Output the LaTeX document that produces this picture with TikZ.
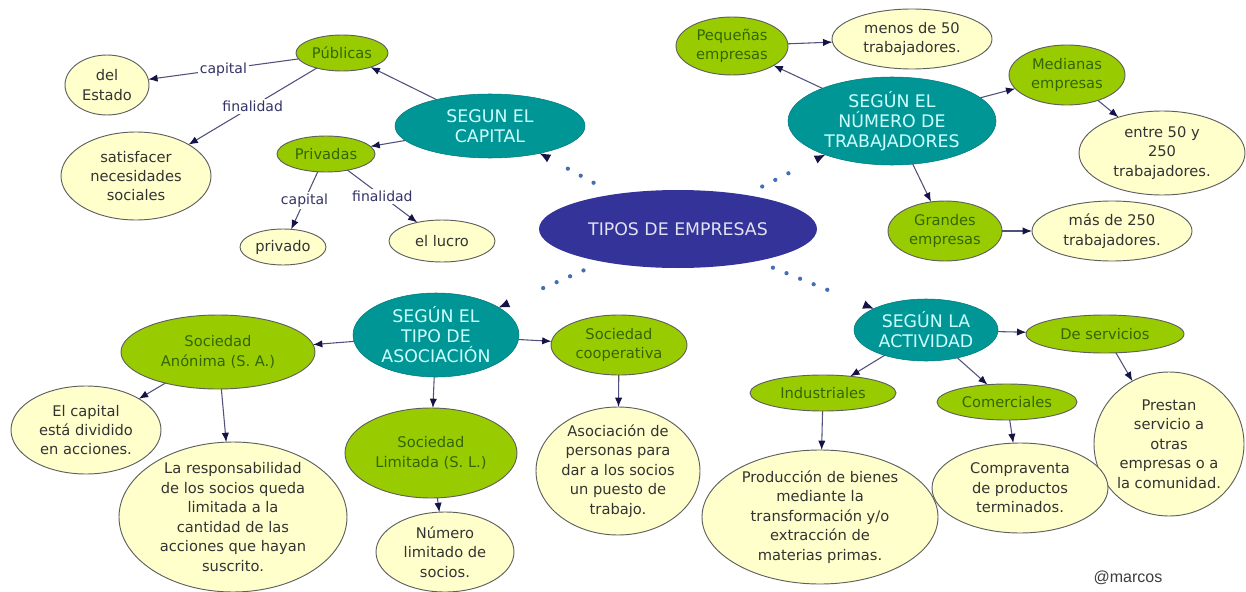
\documentclass[tikz,border=0pt]{standalone}
\usepackage{fontspec}
\setmainfont{DejaVu Sans}
\newfontfamily\signfont{Liberation Sans}
\usetikzlibrary{shapes.geometric,arrows.meta}

\definecolor{hubblue}{RGB}{51,51,153}
\definecolor{hubtext}{RGB}{225,225,240}
\definecolor{tealfill}{RGB}{0,150,150}
\definecolor{tealedge}{RGB}{0,120,125}
\definecolor{tealtext}{RGB}{204,255,255}
\definecolor{limefill}{RGB}{153,204,0}
\definecolor{limetext}{RGB}{51,102,0}
\definecolor{creamfill}{RGB}{255,255,204}
\definecolor{notetext}{RGB}{51,51,51}
\definecolor{edgegray}{RGB}{95,95,95}
\definecolor{linkcol}{RGB}{80,80,125}
\definecolor{tipcol}{RGB}{20,20,70}
\definecolor{lbltext}{RGB}{51,51,102}
\definecolor{dotblue}{RGB}{70,110,180}
\definecolor{signgray}{RGB}{60,60,60}

\tikzset{
	bubble/.style={ellipse, inner sep=-5pt, outer sep=0pt, align=center, font=\fontsize{11}{14.6}\selectfont},
	hub/.style={bubble, fill=hubblue, text=hubtext, font=\fontsize{13}{15}\selectfont},
	branch/.style={bubble, fill=tealfill, draw=tealedge, text=tealtext, font=\fontsize{13}{15}\selectfont},
	kind/.style={bubble, fill=limefill, draw=edgegray, line width=0.7pt, text=limetext},
	note/.style={bubble, fill=creamfill, draw=edgegray, line width=0.7pt, text=notetext},
	dims/.style 2 args={minimum width=#1, minimum height=#2},
	link/.style={draw=linkcol, line width=0.8pt, -{Latex[length=7pt,width=5.5pt,color=tipcol]}},
	lbl/.style={fill=white, inner sep=1.5pt, text=lbltext, font=\fontsize{10.5}{12}\selectfont},
	dotlink/.style={draw=dotblue, line width=3.2pt, line cap=round, -{Latex[length=8pt,width=6.5pt,color=tipcol,line width=0pt]}},
}

\begin{document}
\begin{tikzpicture}[x=0.75pt,y=0.75pt,yscale=-1,xscale=1]
	\useasboundingbox (0,0) rectangle (1246,592);
	
	%Shape: Ellipse centre
	\node [hub, dims={208.5pt}{58.5pt}] (tipos) at (678,229) {TIPOS DE EMPRESAS};
	
	%Shape: Ellipse branches
	\node [branch, dims={142.5pt}{48pt}] (capital) at (490,126) {SEGUN EL\\CAPITAL};
	\node [branch, dims={156pt}{66pt}] (numero) at (892,121) {SEGÚN EL\\NÚMERO DE\\TRABAJADORES};
	\node [branch, dims={124.5pt}{63pt}] (asociacion) at (436,335) {SEGÚN EL\\TIPO DE\\ASOCIACIÓN};
	\node [branch, dims={108pt}{46.5pt}] (actividad) at (926,330) {SEGÚN LA\\ACTIVIDAD};
	
	%Shape: Ellipse capital
	\node [kind, dims={69pt}{27pt}] (publicas) at (342,53) {Públicas};
	\node [note, dims={63pt}{45pt}] (estado) at (107,85) {del\\Estado};
	\node [note, dims={112.5pt}{66pt}] (necesidades) at (136,176) {satisfacer\\necesidades\\sociales};
	\node [kind, dims={73.5pt}{27pt}] (privadas) at (326,154) {Privadas};
	\node [note, dims={64.5pt}{27pt}] (privado) at (283,247) {privado};
	\node [note, dims={79.5pt}{31.5pt}] (lucro) at (442,241) {el lucro};
	
	%Shape: Ellipse trabajadores
	\node [kind, dims={84pt}{43.5pt}] (pequenas) at (732,46) {Pequeñas\\empresas};
	\node [note, dims={120pt}{45pt}] (menos) at (912,39) {menos de 50\\trabajadores.};
	\node [kind, dims={87pt}{45pt}] (medianas) at (1067,75) {Medianas\\empresas};
	\node [note, dims={124.5pt}{63pt}] (entre) at (1162,153) {entre 50 y\\250\\trabajadores.};
	\node [kind, dims={85.5pt}{45pt}] (grandes) at (945,231) {Grandes\\empresas};
	\node [note, dims={120pt}{45pt}] (mas) at (1112,231) {más de 250\\trabajadores.};
	
	%Shape: Ellipse asociacion
	\node [kind, dims={145.5pt}{55.5pt}] (anonima) at (218,352) {Sociedad\\Anónima (S. A.)};
	\node [note, dims={112.5pt}{66pt}] (dividido) at (86,430) {El capital\\está dividido\\en acciones.};
	\node [note, dims={171pt}{112.5pt}] (responsab) at (233,517) {La responsabilidad\\de los socios queda\\limitada a la\\cantidad de las\\acciones que hayan\\suscrito.};
	\node [kind, dims={129pt}{67.5pt}] (limitada) at (431,453) {Sociedad\\Limitada (S. L.)};
	\node [note, dims={103.5pt}{60pt}] (numsocios) at (445,552) {Número\\limitado de\\socios.};
	\node [kind, dims={102pt}{45pt}] (cooperativa) at (619,345) {Sociedad\\cooperativa};
	\node [note, dims={123pt}{96pt}] (personas) at (618,471) {Asociación de\\personas para\\dar a los socios\\un puesto de\\trabajo.};
	
	%Shape: Ellipse actividad
	\node [kind, dims={118.5pt}{28.5pt}] (servicios) at (1105,334) {De servicios};
	\node [kind, dims={109.5pt}{27pt}] (industriales) at (823,393) {Industriales};
	\node [kind, dims={105pt}{27pt}] (comerciales) at (1007,402) {Comerciales};
	\node [note, dims={112.5pt}{108pt}] (prestan) at (1169,444) {Prestan\\servicio a\\otras\\empresas o a\\la comunidad.};
	\node [note, dims={177pt}{100.5pt}] (produccion) at (820,517) {Producción de bienes\\mediante la\\transformación y/o\\extracción de\\materias primas.};
	\node [note, dims={132pt}{67.5pt}] (compraventa) at (1020,488) {Compraventa\\de productos\\terminados.};
	
	% Text Node
	\node [font=\signfont\fontsize{12}{14}\selectfont, text=signgray] (firma) at (1128,578) {@marcos};
	
	%Dotted Lines
	\draw [dotlink, dash pattern=on 0pt off 11pt on 0pt off 11pt on 0pt off 200pt, dash phase=204pt] (tipos) -- (capital);
	\draw [dotlink, dash pattern=on 0pt off 11pt on 0pt off 11pt on 0pt off 200pt, dash phase=208pt] (tipos) -- (numero);
	\draw [dotlink, dash pattern=on 0pt off 11pt on 0pt off 11pt on 0pt off 11pt on 0pt off 200pt, dash phase=217pt] (tipos) -- (asociacion);
	\draw [dotlink, dash pattern=on 0pt off 11pt on 0pt off 11pt on 0pt off 11pt on 0pt off 11pt on 0pt off 200pt, dash phase=231pt] (tipos) -- (actividad);
	
	%Straight Lines
	\draw [link] (capital) -- (publicas);
	\draw [link] (capital) -- (privadas);
	\draw [link] (publicas) -- node [lbl] {capital} (estado);
	\draw [link] (publicas) -- node [lbl] {finalidad} (necesidades);
	\draw [link] (privadas) -- node [lbl] {capital} (privado);
	\draw [link] (privadas) -- node [lbl] {finalidad} (lucro);
	
	\draw [link] (numero) -- (pequenas);
	\draw [link] (pequenas) -- (menos);
	\draw [link] (numero) -- (medianas);
	\draw [link] (medianas) -- (entre);
	\draw [link] (numero) -- (grandes);
	\draw [link] (grandes) -- (mas);
	
	\draw [link] (asociacion) -- (anonima);
	\draw [link] (asociacion) -- (limitada);
	\draw [link] (asociacion) -- (cooperativa);
	\draw [link] (anonima) -- (dividido);
	\draw [link] (anonima) -- (responsab);
	\draw [link] (limitada) -- (numsocios);
	\draw [link] (cooperativa) -- (personas);
	
	\draw [link] (actividad) -- (servicios);
	\draw [link] (actividad) -- (industriales);
	\draw [link] (actividad) -- (comerciales);
	\draw [link] (servicios) -- (prestan);
	\draw [link] (industriales) -- (produccion);
	\draw [link] (comerciales) -- (compraventa);
	
\end{tikzpicture}
\end{document}
